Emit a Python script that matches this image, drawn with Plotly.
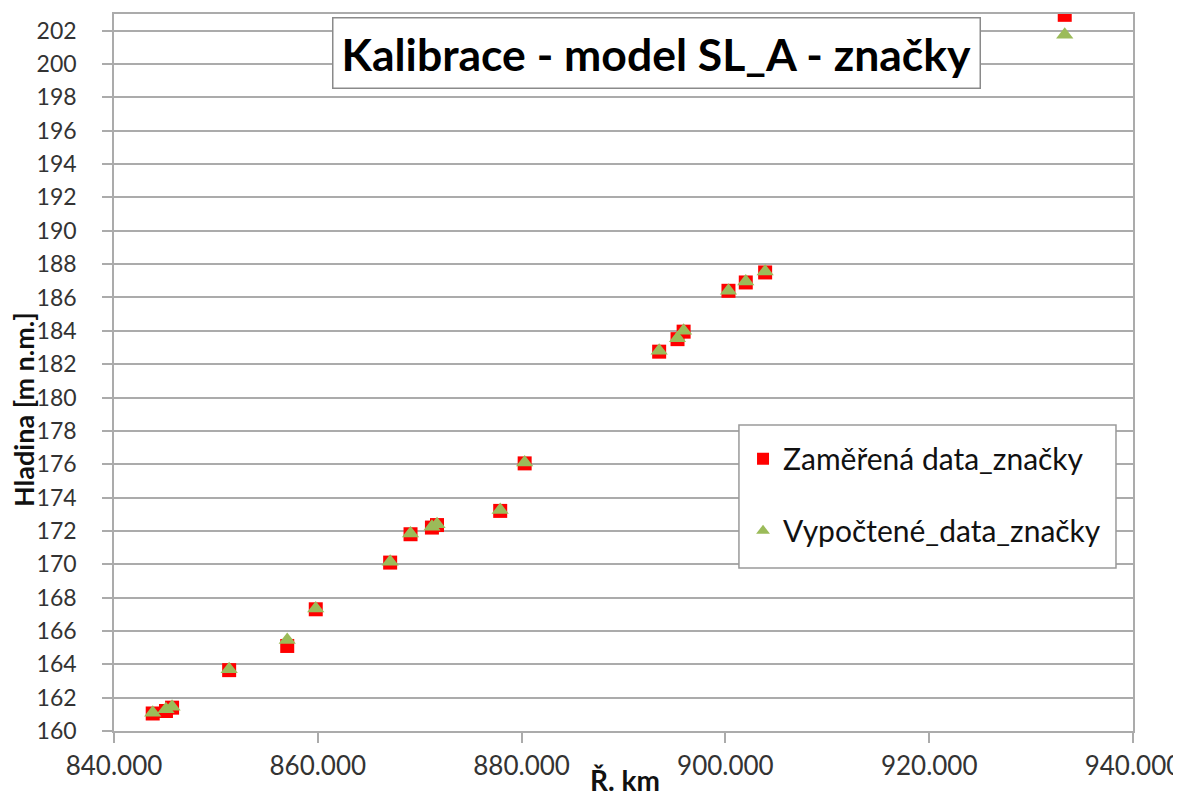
import plotly.graph_objects as go

# Data
km = [843.8, 845.1, 845.7, 851.3, 857.0, 859.8, 867.1, 869.1, 871.2, 871.7,
      877.9, 880.3, 893.5, 895.3, 895.9, 900.3, 902.0, 903.9, 933.3]
measured = [161.05, 161.2, 161.4, 163.65, 165.1, 167.3, 170.1, 171.8, 172.2, 172.35,
            173.2, 176.05, 182.75, 183.5, 183.95, 186.4, 186.9, 187.5, 202.95]
computed = [161.1, 161.3, 161.45, 163.7, 165.45, 167.35, 170.15, 171.85, 172.25, 172.4,
            173.25, 176.1, 182.8, 183.55, 184.0, 186.4, 186.95, 187.55, 201.75]

title_text = "Kalibrace - model SL_A - značky"
name_measured = "Zaměřená data_značky"
name_computed = "Vypočtené_data_značky"
x_title = "Ř. km"
y_title = "Hladina [m n.m.]"

FONT = "Lato"
GRID = "#ababab"

fig = go.Figure()
fig.add_trace(go.Scatter(
    x=km, y=measured, mode="markers", name=name_measured,
    marker=dict(symbol="square", size=14, color="#ff0000", line=dict(width=0)),
    legendgroup="a",
))
fig.add_trace(go.Scatter(
    x=km, y=computed, mode="markers", name=name_computed,
    marker=dict(symbol="triangle-up", size=15, color="#9bbb59", line=dict(width=0)),
    legendgroup="b",
))

fig.update_layout(
    width=1181, height=795,
    margin=dict(l=106, r=56, t=6, b=72),
    paper_bgcolor="white", plot_bgcolor="white",
    font=dict(family=FONT, color="#222222"),
    showlegend=True,
    legend=dict(
        x=0.6133 + 0.004, y=0.4160, xanchor="left", yanchor="top",
        bgcolor="rgba(0,0,0,0)", borderwidth=0,
        font=dict(family=FONT, size=30, color="#111111"),
        tracegroupgap=30, itemsizing="constant",
    ),
    xaxis=dict(
        range=[840, 940], dtick=20, tick0=840, tickformat=".3f",
        showgrid=False, zeroline=False, automargin=False,
        showline=True, linecolor=GRID, linewidth=1.5, mirror=True,
        ticks="outside", ticklen=10, tickcolor=GRID, tickwidth=1.5,
        ticklabelstandoff=1,
        tickfont=dict(family=FONT, size=26, color="#333333"),
    ),
    yaxis=dict(
        range=[160, 203], dtick=2, tick0=160,
        showgrid=True, gridcolor=GRID, gridwidth=1.5, zeroline=False, automargin=False,
        showline=True, linecolor=GRID, linewidth=1.5, mirror=True,
        ticks="outside", ticklen=10, tickcolor=GRID, tickwidth=1.5,
        ticklabelstandoff=21,
        tickfont=dict(family=FONT, size=23, color="#333333"),
    ),
    shapes=[dict(
        type="rect", xref="paper", yref="paper",
        x0=0.6133, x1=0.9833, y0=0.2273, y1=0.4268,
        fillcolor="white", line=dict(color="#9a9a9a", width=1.5), layer="above",
    )],
    annotations=[
        dict(
            text="<b>" + title_text + "</b>", xref="paper", yref="paper",
            x=0.532, y=0.946, xanchor="center", yanchor="middle", showarrow=False,
            font=dict(family=FONT, size=44.5, color="#000000"),
            bgcolor="white", bordercolor="#8a8a8a", borderwidth=1.5, borderpad=8,
        ),
        dict(
            text="<b>" + y_title + "</b>", xref="paper", yref="paper",
            x=-0.0883, y=0.4477, xanchor="center", yanchor="middle", showarrow=False,
            textangle=-90, font=dict(family=FONT, size=27, color="#111111"),
        ),
        dict(
            text="<b>" + x_title + "</b>", xref="paper", yref="paper",
            x=0.5015, y=-0.068, xanchor="center", yanchor="middle", showarrow=False,
            font=dict(family=FONT, size=28, color="#111111"),
        ),
    ],
)

fig.write_html("out.html")
